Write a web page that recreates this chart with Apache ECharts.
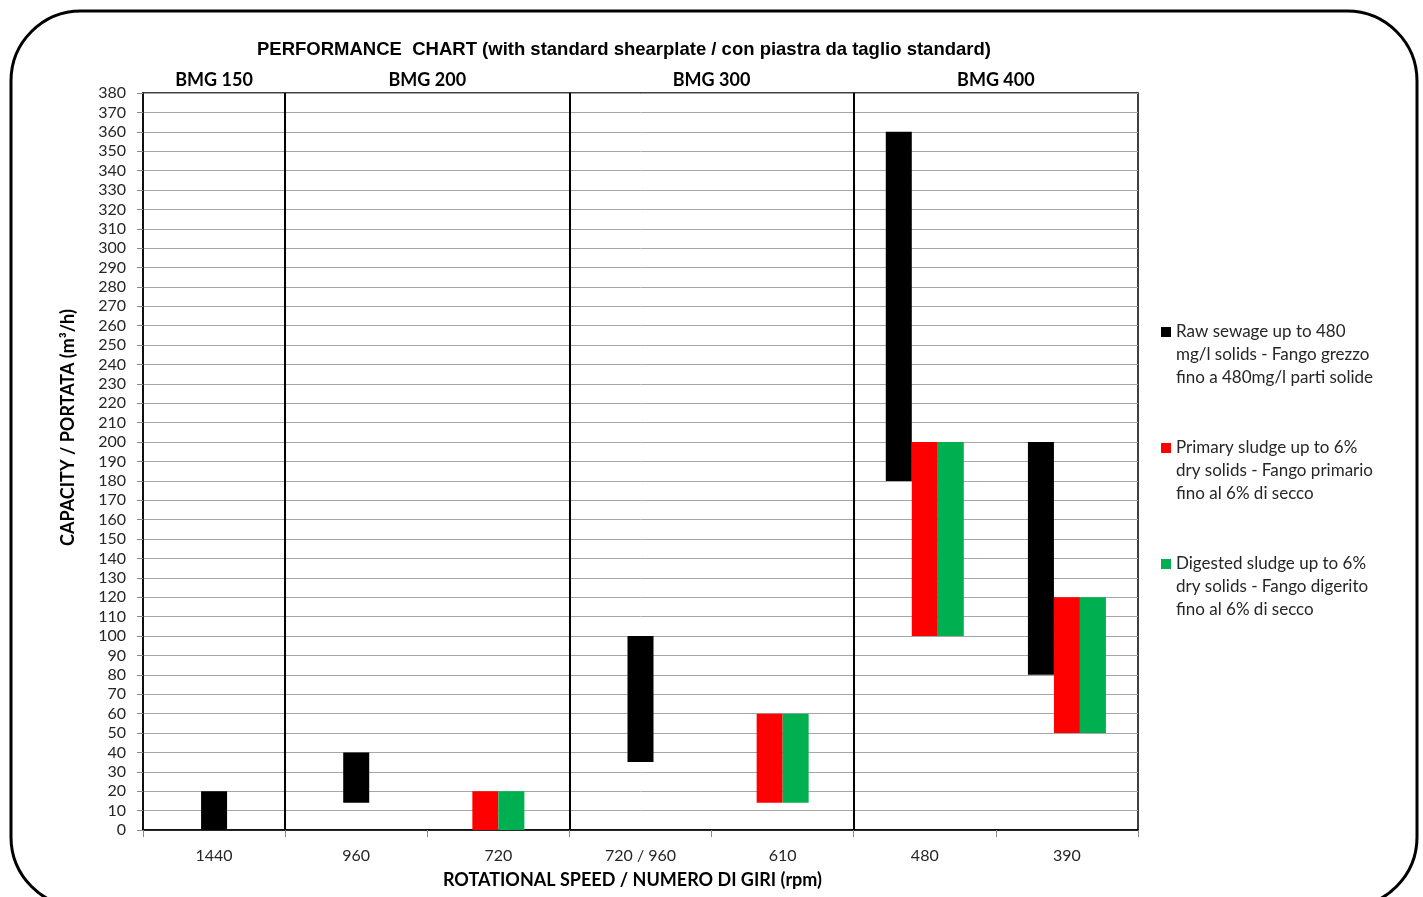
<!DOCTYPE html>
<html>
<head>
<meta charset="utf-8">
<script src="https://cdn.jsdelivr.net/npm/echarts@6/dist/echarts.min.js"></script>
<style>html,body{margin:0;padding:0;background:#fff;}#c{width:1423px;height:897px;}</style>
</head>
<body>
<div id="c"></div>
<script>
// ---- data ----
const categories = ['1440', '960', '720', '720 / 960', '610', '480', '390'];
const groupNames = ['BMG 150', 'BMG 200', 'BMG 300', 'BMG 400'];
const groupCenters = [0.5, 2, 4, 6];
const groupBounds = [1, 3, 5];
const rawLow = [0, 14, null, 35, null, 180, 80];
const rawHigh = [20, 40, null, 100, null, 360, 200];
const primaryLow = [null, null, 0, null, 14, 100, 50];
const primaryHigh = [null, null, 20, null, 60, 200, 120];
const digestedLow = [null, null, 0, null, 14, 100, 50];
const digestedHigh = [null, null, 20, null, 60, 200, 120];
const seriesNames = [
  'Raw sewage up to 480\nmg/l solids - Fango grezzo\nfino a 480mg/l parti solide',
  'Primary sludge up to 6%\ndry solids - Fango primario\nfino al 6% di secco',
  'Digested sludge up to 6%\ndry solids - Fango digerito\nfino al 6% di secco'
];
const seriesColors = ['#000000', '#ff0000', '#00b050'];
const yTicks = { min: 0, max: 380, interval: 10 };

// ---- build ----
const lows = [rawLow, primaryLow, digestedLow];
const highs = [rawHigh, primaryHigh, digestedHigh];
// Each category's bars are centred as a cluster:
// odd counts use the 3-slot axis (0), pairs use the 2-slot axis (2).
const axisOf = [], slotOf = lows.map(() => []);
categories.forEach((c, i) => {
  const present = [0, 1, 2].filter(k => lows[k][i] != null);
  const pair = present.length === 2;
  axisOf[i] = pair ? 2 : 0;
  const start = pair ? 0 : (present.length === 1 ? 1 : 0);
  present.forEach((k, j) => { slotOf[k][i] = start + j; });
});
const FONT = 'Lato, "Open Sans", sans-serif';
const series = [];
[[0, 3], [2, 2]].forEach(([ax, nSlots]) => {
  for (let s = 0; s < nSlots; s++) {
    for (let k = 0; k < 3; k++) {
      const use = i => axisOf[i] === ax && slotOf[k][i] === s;
      const base = categories.map((c, i) => use(i) ? lows[k][i] : '-');
      const val = categories.map((c, i) => use(i) ? highs[k][i] - lows[k][i] : '-');
      series.push({
        type: 'bar', name: '_base', xAxisIndex: ax, stack: 'a' + ax + 's' + s, data: base, silent: true,
        barWidth: 26, barGap: '0%', itemStyle: { color: 'transparent' }
      });
      series.push({
        type: 'bar', name: seriesNames[k], xAxisIndex: ax, stack: 'a' + ax + 's' + s, data: val,
        barWidth: 26, barGap: '0%', itemStyle: { color: seriesColors[k] }
      });
    }
  }
});
series.push({
  type: 'line', xAxisIndex: 1, data: [], silent: true,
  markLine: {
    symbol: 'none', silent: true, label: { show: false },
    lineStyle: { color: '#000', width: 2, type: 'solid' },
    data: groupBounds.map(v => ({ xAxis: v }))
  }
});

const chart = echarts.init(document.getElementById('c'));
chart.setOption({
  animation: false,
  textStyle: { fontFamily: FONT },
  title: {
    text: 'PERFORMANCE  CHART (with standard shearplate / con piastra da taglio standard)',
    left: 252, top: 35,
    textStyle: { fontFamily: '"Liberation Sans", Arial, sans-serif', fontSize: 18.5, fontWeight: 'bold', color: '#000' }
  },
  legend: {
    orient: 'vertical', left: 1156, top: 315,
    data: seriesNames,
    icon: 'path://M0,0h10v10h-10zM0,55h0.01v0.01h-0.01z',
    itemWidth: 10, itemHeight: 56, itemGap: 47,
    textStyle: { fontFamily: FONT, fontSize: 17, color: '#262626', lineHeight: 23 }
  },
  grid: {
    left: 143, right: 285, top: 93, bottom: 67, outerBoundsMode: 'none',
    show: true, borderColor: '#000', borderWidth: 1.5, backgroundColor: 'transparent'
  },
  xAxis: [{
    type: 'category', data: categories, boundaryGap: true,
    axisLine: { lineStyle: { color: '#000', width: 1.5 } },
    axisTick: { show: true, length: 7, lineStyle: { color: '#888' } },
    axisLabel: { fontFamily: FONT, fontSize: 16, color: '#262626', margin: 18 },
    name: 'ROTATIONAL SPEED / NUMERO DI GIRI (rpm)', nameLocation: 'middle', nameGap: 41,
    nameTextStyle: { fontFamily: FONT, fontSize: 18, fontWeight: 'bold', color: '#000', padding: [0, 16, 0, 0] }
  }, {
    type: 'value', position: 'top', min: 0, max: 7,
    axisLine: { show: false }, axisTick: { show: false }, splitLine: { show: false },
    axisLabel: {
      customValues: groupCenters, margin: 4,
      formatter: v => groupNames[groupCenters.indexOf(v)],
      fontFamily: FONT, fontSize: 18, fontWeight: 'bold', color: '#000'
    }
  }, {
    type: 'category', data: categories, boundaryGap: true, show: false
  }],
  yAxis: {
    type: 'value', min: yTicks.min, max: yTicks.max, interval: yTicks.interval,
    axisLine: { show: true, lineStyle: { color: '#000', width: 1.5 } },
    axisTick: { show: true, length: 6, lineStyle: { color: '#888' } },
    axisLabel: { fontFamily: FONT, fontSize: 16, color: '#262626', margin: 17 },
    splitLine: { lineStyle: { color: '#a6a6a6', width: 1 } },
    name: 'CAPACITY / PORTATA (m³/h)', nameLocation: 'middle', nameGap: 66, nameRotate: 90,
    nameTextStyle: { fontFamily: FONT, fontSize: 18, fontWeight: 'bold', color: '#000', padding: [0, 0, 0, 68] }
  },
  graphic: [{
    type: 'rect', silent: true, z: -1,
    shape: { x: 11, y: 11, width: 1406, height: 896, r: 70 },
    style: { fill: 'none', stroke: '#000', lineWidth: 3 }
  }],
  series: series
});
</script>
</body>
</html>
